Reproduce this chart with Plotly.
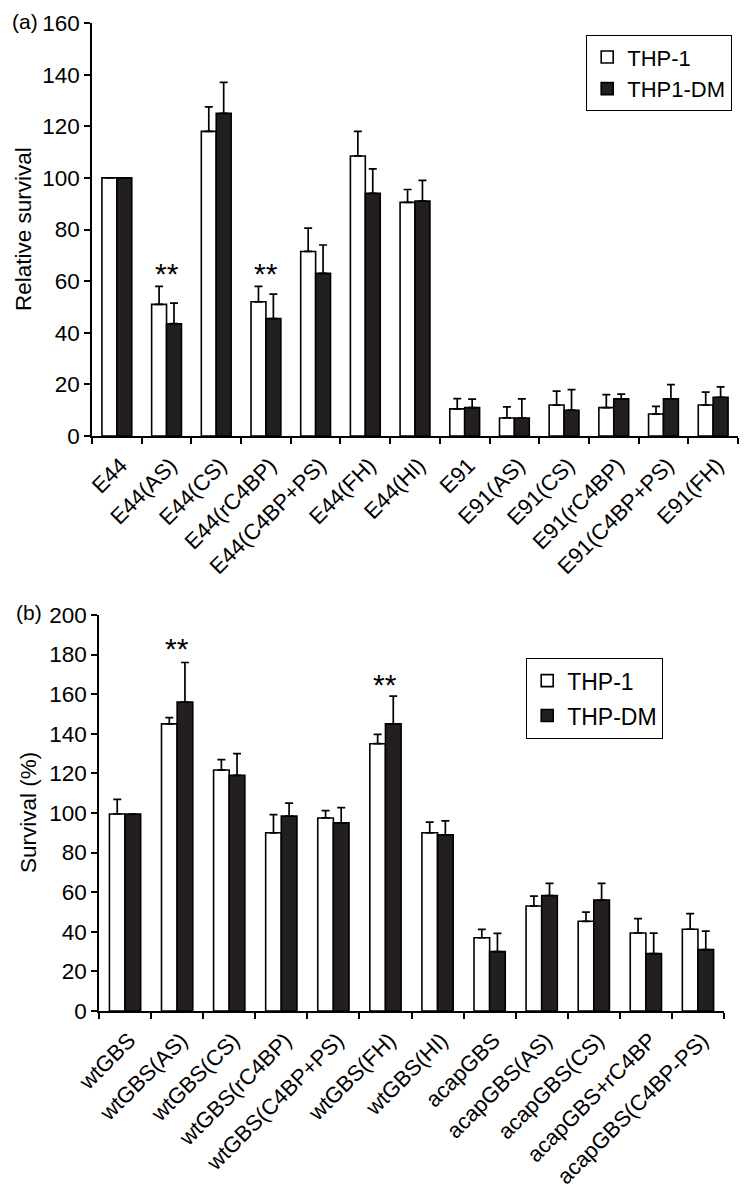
import plotly.graph_objects as go

# The page body has an 8px margin, so positions are measured in window pixels
# and converted to figure fractions with that offset removed.
OFF = 8
W, H = 749 - OFF, 1199 - OFF


def fx(p):
    return (p - OFF) / W


def fy(p):
    return 1 - (p - OFF) / H


# ---- Panel (a) data ----
cats_a = ["E44", "E44(AS)", "E44(CS)", "E44(rC4BP)", "E44(C4BP+PS)", "E44(FH)", "E44(HI)",
          "E91", "E91(AS)", "E91(CS)", "E91(rC4BP)", "E91(C4BP+PS)", "E91(FH)"]
thp1_a = [100, 51, 118, 52, 71.5, 108.5, 90.5, 10.5, 7, 12, 11, 8.5, 12]
thp1_a_err = [0, 7, 9.5, 6, 9, 9.5, 5, 4, 4.3, 5.4, 5, 3, 5]
dm_a = [100, 43.5, 125, 45.5, 63, 94, 91, 11, 7, 10, 14.4, 14.4, 15]
dm_a_err = [0, 8, 12, 9.5, 11, 9.5, 8, 3.3, 7.4, 8, 1.8, 5.5, 4]
names_a = ["THP-1", "THP1-DM"]
yticks_a = [0, 20, 40, 60, 80, 100, 120, 140, 160]

# ---- Panel (b) data ----
cats_b = ["wtGBS", "wtGBS(AS)", "wtGBS(CS)", "wtGBS(rC4BP)", "wtGBS(C4BP+PS)", "wtGBS(FH)",
          "wtGBS(HI)", "acapGBS", "acapGBS(AS)", "acapGBS(CS)", "acapGBS+rC4BP", "acapGBS(C4BP-PS)"]
thp1_b = [99.5, 145, 121.7, 90, 97.5, 135, 90, 37, 53, 45.3, 39.4, 41.3]
thp1_b_err = [7.4, 3.2, 5.3, 9.2, 3.7, 4.7, 5.4, 4.2, 5, 4.6, 7.3, 7.9]
dm_b = [99.5, 156, 119, 98.4, 95, 145, 89, 30, 58.3, 56, 29, 31]
dm_b_err = [0, 20, 11, 6.6, 7.7, 14, 7, 9.2, 6.2, 8.5, 10.3, 9.3]
names_b = ["THP-1", "THP-DM"]
yticks_b = [0, 20, 40, 60, 80, 100, 120, 140, 160, 180, 200]

sig_a = ["E44(AS)", "E44(rC4BP)"]
sig_a_y = [63, 63]
sig_b = ["wtGBS(AS)", "wtGBS(FH)"]
sig_b_y = [183, 165]

FONT = "Liberation Sans, Arial, sans-serif"
BLACK = "#231f20"


def err(vals):
    return dict(type="data", array=vals, arrayminus=[0] * len(vals), symmetric=False,
                color="black", thickness=1.7, width=4)


fig = go.Figure()
fig.add_trace(go.Bar(x=cats_a, y=thp1_a, name=names_a[0], error_y=err(thp1_a_err),
                     marker=dict(color="white", line=dict(color="black", width=1.6)),
                     xaxis="x", yaxis="y", legend="legend", legendgroup="a1"))
fig.add_trace(go.Bar(x=cats_a, y=dm_a, name=names_a[1], error_y=err(dm_a_err),
                     marker=dict(color=BLACK, line=dict(color="black", width=1.6)),
                     xaxis="x", yaxis="y", legend="legend", legendgroup="a2"))
fig.add_trace(go.Bar(x=cats_b, y=thp1_b, name=names_b[0], error_y=err(thp1_b_err),
                     marker=dict(color="white", line=dict(color="black", width=1.6)),
                     xaxis="x2", yaxis="y2", legend="legend2", legendgroup="b1"))
fig.add_trace(go.Bar(x=cats_b, y=dm_b, name=names_b[1], error_y=err(dm_b_err),
                     marker=dict(color=BLACK, line=dict(color="black", width=1.6)),
                     xaxis="x2", yaxis="y2", legend="legend2", legendgroup="b2"))

xa_common = dict(type="category", showline=True, linecolor="black", linewidth=1.6,
                 ticks="outside", tickson="boundaries", ticklen=6, tickwidth=1.6, tickcolor="black",
                 tickangle=-45, tickfont=dict(size=22, color="black", family=FONT),
                 ticklabelstandoff=6, ticklabelshift=4,
                 showgrid=False, zeroline=False, automargin=False)
ya_common = dict(showline=True, linecolor="black", linewidth=1.6,
                 ticks="outside", ticklen=6, tickwidth=1.6, tickcolor="black",
                 tickfont=dict(size=22.5, color="black", family=FONT),
                 showgrid=False, zeroline=False, automargin=False)

fig.update_layout(
    width=W, height=H,
    margin=dict(l=0, r=0, t=0, b=0),
    paper_bgcolor="white", plot_bgcolor="white",
    font=dict(family=FONT, color="black"),
    barmode="group", bargap=0.4, bargroupgap=0,
    xaxis=dict(domain=[fx(92), fx(738)], anchor="y", **xa_common),
    yaxis=dict(domain=[fy(436), fy(23)], anchor="x", range=[0, 160],
               tickvals=yticks_a, **ya_common),
    xaxis2=dict(domain=[fx(99), fx(724)], anchor="y2", **xa_common),
    yaxis2=dict(domain=[fy(1011), fy(615)], anchor="x2", range=[0, 200],
                tickvals=yticks_b, **ya_common),
    legend=dict(x=fx(586), y=fy(35), xanchor="left", yanchor="top",
                bordercolor="black", borderwidth=1.2, bgcolor="white",
                font=dict(size=22, color="black", family=FONT),
                traceorder="grouped", tracegroupgap=0, itemwidth=30),
    legend2=dict(x=fx(526), y=fy(658), xanchor="left", yanchor="top",
                 bordercolor="black", borderwidth=1.2, bgcolor="white",
                 font=dict(size=23, color="black", family=FONT),
                 traceorder="grouped", tracegroupgap=2, itemwidth=30),
    showlegend=True,
)

annotations = [
    dict(text="(a)", x=fx(10), y=fy(22), xref="paper", yref="paper", xanchor="left",
         yanchor="middle", showarrow=False, font=dict(size=21, color="black", family=FONT)),
    dict(text="(b)", x=fx(14), y=fy(612), xref="paper", yref="paper", xanchor="left",
         yanchor="middle", showarrow=False, font=dict(size=21, color="black", family=FONT)),
    dict(text="Relative survival", x=fx(23), y=fy(229), xref="paper", yref="paper",
         textangle=-90, showarrow=False, xanchor="center", yanchor="middle",
         font=dict(size=22.5, color="black", family=FONT)),
    dict(text="Survival (%)", x=fx(28), y=fy(813), xref="paper", yref="paper",
         textangle=-90, showarrow=False, xanchor="center", yanchor="middle",
         font=dict(size=22.5, color="black", family=FONT)),
]
for c, yv in zip(sig_a, sig_a_y):
    annotations.append(dict(text="**", x=c, y=yv, xref="x", yref="y", showarrow=False,
                            yanchor="middle", font=dict(size=30, color="black", family=FONT)))
for c, yv in zip(sig_b, sig_b_y):
    annotations.append(dict(text="**", x=c, y=yv, xref="x2", yref="y2", showarrow=False,
                            yanchor="middle", font=dict(size=30, color="black", family=FONT)))
fig.update_layout(annotations=annotations)

fig.write_html("out.html")
